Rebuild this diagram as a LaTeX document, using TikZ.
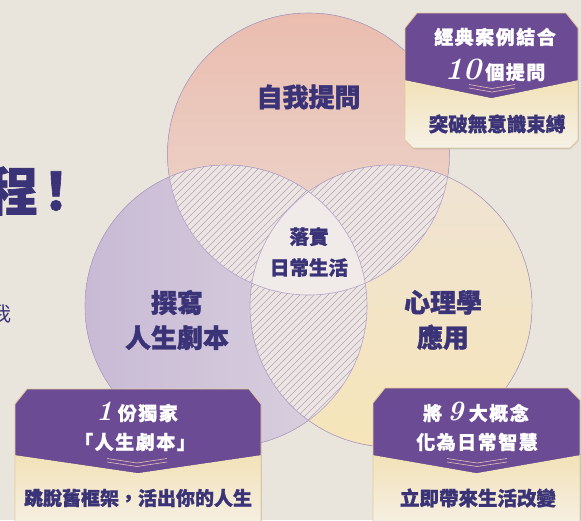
\documentclass[tikz,border=0pt]{standalone}
\usepackage{fontspec}
\newfontfamily\cjk{Noto Sans CJK TC}[BoldFeatures={FakeBold=1.2}]
\newfontfamily\cjksp{Noto Sans CJK TC}[LetterSpace=8,BoldFeatures={FakeBold=1.0}]
\newcommand\numfont{\normalfont\bfseries\itshape\fontsize{28}{28}\selectfont}
\newcommand\numfontL{\normalfont\bfseries\itshape\fontsize{31}{31}\selectfont}
\usetikzlibrary{shadows}
\definecolor{bgc}{HTML}{E9E5DD}
\definecolor{navy}{HTML}{3A3377}
\definecolor{boxpurple}{HTML}{6C4B95}
\definecolor{creamtop}{HTML}{F2E2B8}
\definecolor{creambot}{HTML}{F6F1E7}
\definecolor{goldline}{HTML}{E4CB9C}
\definecolor{pinkA}{HTML}{EABDAF}
\definecolor{pinkB}{HTML}{EEDAD2}
\definecolor{lavA}{HTML}{C8BAD5}
\definecolor{lavB}{HTML}{DCD3E0}
\definecolor{yelA}{HTML}{F6E5B9}
\definecolor{yelB}{HTML}{EFE3D4}
\definecolor{lensc}{HTML}{ECE5E1}
\definecolor{hatchc}{HTML}{B3A5BE}
\definecolor{centerc}{HTML}{F0EBE8}
\definecolor{ringc}{HTML}{B5A3C8}
\definecolor{chevc}{HTML}{E8C3B3}
\begin{document}
\begin{tikzpicture}[x=1pt,y=-1pt,
  ring/.style={draw=ringc,line width=0.6pt},
  hatch/.style={draw=hatchc,line width=0.5pt},
  boxshadow/.style={drop shadow={opacity=0.15,shadow xshift=0.5pt,shadow yshift=-1.5pt}},
  creampart/.style={top color=creamtop,bottom color=creambot},
  boxedge/.style={draw=goldline,line width=0.8pt},
  chev/.style={draw=chevc,line width=0.6pt},
  title/.style={text=white,font=\cjksp\bfseries\fontsize{19}{24}\selectfont,inner sep=0pt},
  subtitle/.style={text=navy,font=\cjk\bfseries\fontsize{19.5}{24}\selectfont,inner sep=0pt},
  big/.style={text=navy,font=\cjk\bfseries\fontsize{26}{35}\selectfont,align=center,inner sep=0pt},
  mid/.style={text=navy,font=\cjk\bfseries\fontsize{19.5}{31}\selectfont,align=center,inner sep=0pt},
]
\useasboundingbox (0,0) rectangle (581,520);
\clip (0,0) rectangle (581,520);
\fill[bgc] (0,0) rectangle (581,520);

% left cut-off text
\node[text=navy,font=\cjk\bfseries\fontsize{52}{52}\selectfont,inner sep=0pt] (cheng) at (12,191) {程};
\node[text=navy,font=\cjk\bfseries\fontsize{52}{52}\selectfont,inner sep=0pt] (excl) at (56,191) {！};
\node[text=navy,font=\cjk\fontsize{20}{20}\selectfont,inner sep=0pt] (fragA) at (-4,278) {，};
\node[text=navy,font=\cjk\fontsize{20}{20}\selectfont,inner sep=0pt] (fragB) at (1,314) {我};

% Venn circles
\coordinate (cT) at (308.5,154);
\coordinate (cL) at (226,306);
\coordinate (cR) at (391,306);
\def\rad{141}
\fill[top color=pinkA,bottom color=pinkB] (cT) circle[radius=\rad];
\fill[left color=lavA,right color=lavB] (cL) circle[radius=\rad];
\fill[top color=yelB,bottom color=yelA] (cR) circle[radius=\rad];

\begin{scope}
 \clip (cT) circle[radius=\rad];
 \clip (cL) circle[radius=\rad];
 \fill[lensc] (0,0) rectangle (581,520);
 \foreach \a in {-520,-513,...,600} \draw[hatch] (\a,520) -- (\a+520,0);
\end{scope}
\begin{scope}
 \clip (cT) circle[radius=\rad];
 \clip (cR) circle[radius=\rad];
 \fill[lensc] (0,0) rectangle (581,520);
 \foreach \a in {-520,-513,...,600} \draw[hatch] (\a,520) -- (\a+520,0);
\end{scope}
\begin{scope}
 \clip (cL) circle[radius=\rad];
 \clip (cR) circle[radius=\rad];
 \fill[lensc] (0,0) rectangle (581,520);
 \foreach \a in {-520,-513,...,600} \draw[hatch] (\a,520) -- (\a+520,0);
\end{scope}
\begin{scope}
 \clip (cT) circle[radius=\rad];
 \clip (cL) circle[radius=\rad];
 \clip (cR) circle[radius=\rad];
 \fill[centerc] (0,0) rectangle (581,520);
\end{scope}
\draw[ring] (cT) circle[radius=\rad];
\draw[ring] (cL) circle[radius=\rad];
\draw[ring] (cR) circle[radius=\rad];

% Venn labels
\node[big] (self) at (308.5,97) {自我提問};
\node[big] (write) at (177,320) {撰寫\\人生劇本};
\node[big] (psy) at (443,320) {心理學\\應用};
\node[mid] (daily) at (309,252) {落實\\日常生活};

% top-right box
\path[boxshadow,fill=creambot] (405,28)--(417,13)--(566,13)--(578,28)--(578,140)--(570,148)--(413,148)--(405,140)--cycle;
\fill[creampart] (405,80)--(491.5,98)--(578,80)--(578,140)--(570,148)--(413,148)--(405,140)--cycle;
\fill[boxpurple] (405,28)--(417,13)--(566,13)--(578,28)--(578,80)--(491.5,98)--(405,80)--cycle;
\draw[boxedge] (405,28)--(417,13)--(566,13)--(578,28)--(578,140)--(570,148)--(413,148)--(405,140)--cycle;
\draw[chev] (469,84.5)--(492,88.5)--(515,84.5);
\draw[chev] (469,88)--(492,92)--(515,88);
\node[title] (trA) at (495,37) {經典案例結合};
\node[title] (trB) at (495,70) {{\numfontL 10}\hspace{4pt}個提問};
\node[subtitle] (trC) at (497,124) {突破無意識束縛};

% bottom-left box
\path[boxshadow,fill=creambot] (15,404)--(27,389)--(249,389)--(261,404)--(261,530)--(15,530)--cycle;
\fill[creampart] (15,455)--(138,473)--(261,455)--(261,530)--(15,530)--cycle;
\fill[boxpurple] (15,404)--(27,389)--(249,389)--(261,404)--(261,455)--(138,473)--(15,455)--cycle;
\draw[boxedge] (15,404)--(27,389)--(249,389)--(261,404)--(261,530)--(15,530)--cycle;
\draw[chev] (107,458.5)--(137,463)--(167,458.5);
\draw[chev] (107,462)--(137,466.5)--(167,462);
\node[title] (blA) at (137,412) {{\numfont 1}\hspace{5pt}份獨家};
\node[title] (blB) at (135,442) {「人生劇本」};
\node[subtitle,font=\cjk\bfseries\fontsize{19}{24}\selectfont] (blC) at (138,498) {跳脫舊框架，活出你的人生};

% bottom-right box
\path[boxshadow,fill=creambot] (373,403)--(385,388)--(568,388)--(580,400)--(580,530)--(373,530)--cycle;
\fill[creampart] (373,455)--(476.5,473)--(580,455)--(580,530)--(373,530)--cycle;
\fill[boxpurple] (373,403)--(385,388)--(568,388)--(580,400)--(580,455)--(476.5,473)--(373,455)--cycle;
\draw[boxedge] (373,403)--(385,388)--(568,388)--(580,400)--(580,530)--(373,530)--cycle;
\draw[chev] (447,458.5)--(477,463)--(507,458.5);
\draw[chev] (447,462)--(477,466.5)--(507,462);
\node[title] (brA) at (476,412) {將\hspace{5pt}{\numfont 9}\hspace{5pt}大概念};
\node[title] (brB) at (477,442) {化為日常智慧};
\node[subtitle] (brC) at (478,498) {立即帶來生活改變};
\end{tikzpicture}
\end{document}
